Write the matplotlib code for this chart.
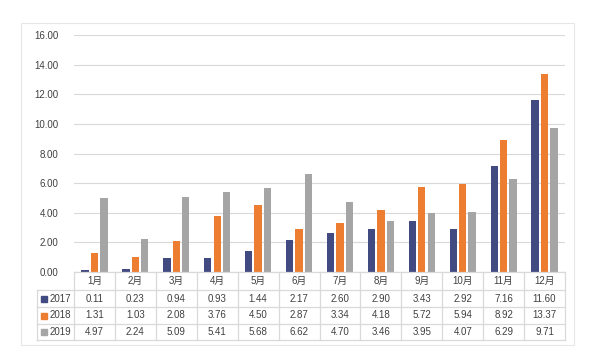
import numpy as np
import matplotlib.pyplot as plt
from matplotlib.patches import Rectangle
from matplotlib.lines import Line2D

plt.rcParams["font.family"] = ["Liberation Sans", "Noto Sans CJK SC", "DejaVu Sans"]

months = ["1月", "2月", "3月", "4月", "5月", "6月", "7月", "8月", "9月", "10月", "11月", "12月"]
years = ["2017", "2018", "2019"]
v2017 = [0.11, 0.23, 0.94, 0.93, 1.44, 2.17, 2.60, 2.90, 3.43, 2.92, 7.16, 11.60]
v2018 = [1.31, 1.03, 2.08, 3.76, 4.50, 2.87, 3.34, 4.18, 5.72, 5.94, 8.92, 13.37]
v2019 = [4.97, 2.24, 5.09, 5.41, 5.68, 6.62, 4.70, 3.46, 3.95, 4.07, 6.29, 9.71]
series = [v2017, v2018, v2019]
colors = ["#424A82", "#ED7D31", "#A5A5A5"]

W, H = 600, 356
fig = plt.figure(figsize=(6.0, 3.56), dpi=100)

def fx(px):
    return px / W

def fy(py):
    return 1 - py / H

# outer frame
fig.patches.append(Rectangle((fx(21), fy(345)), fx(574) - fx(21), fy(23) - fy(345),
                             transform=fig.transFigure, fill=False,
                             edgecolor="#E6E6E6", linewidth=0.8))

left, right, top, bottom = 74, 565, 35, 272
ax = fig.add_axes([fx(left), fy(bottom), fx(right) - fx(left), fy(top) - fy(bottom)])

x = np.arange(len(months))
bw, step = 0.18, 0.23
for i, (vals, c) in enumerate(zip(series, colors)):
    ax.bar(x + (i - 1) * step, vals, width=bw, color=c, zorder=3)

ax.set_xlim(-0.5, len(months) - 0.5)
ax.set_ylim(0, 16)
ax.set_yticks(np.arange(0, 17, 2))
ax.set_yticklabels([f"{t:.2f}" for t in np.arange(0, 17, 2)], fontsize=7, color="#404040")
ax.set_xticks([])
ax.tick_params(axis="y", length=0, pad=11)
ax.grid(axis="y", color="#D9D9D9", linewidth=0.8, zorder=0)
for s in ax.spines.values():
    s.set_visible(False)

# data table below the axes
line_c = "#D9D9D9"
colw = (right - left) / len(months)
rows_y = [272, 290, 307, 324, 340]
leg_left = 37

def hline(x0, x1, y):
    fig.add_artist(Line2D([fx(x0), fx(x1)], [fy(y), fy(y)], transform=fig.transFigure,
                          color=line_c, linewidth=0.9))

def vline(xp, y0, y1):
    fig.add_artist(Line2D([fx(xp), fx(xp)], [fy(y0), fy(y1)], transform=fig.transFigure,
                          color=line_c, linewidth=0.9))

hline(left, right, rows_y[0])
for yv in rows_y[1:]:
    hline(leg_left, right, yv)
for j in range(len(months) + 1):
    vline(left + j * colw, rows_y[0], rows_y[-1])
vline(leg_left, rows_y[1], rows_y[-1])

txt_c = "#404040"
for j, m in enumerate(months):
    cx = left + (j + 0.5) * colw
    fig.text(fx(cx), fy((rows_y[0] + rows_y[1]) / 2), m, ha="center", va="center",
             fontsize=7, color=txt_c)
for r, (yr, vals, c) in enumerate(zip(years, series, colors)):
    cy = (rows_y[r + 1] + rows_y[r + 2]) / 2
    fig.patches.append(Rectangle((fx(41), fy(cy + 3)), fx(6), 6 / H,
                                 transform=fig.transFigure, color=c))
    fig.text(fx(50), fy(cy), yr, ha="left", va="center", fontsize=7, color=txt_c)
    for j, v in enumerate(vals):
        cx = left + (j + 0.5) * colw
        fig.text(fx(cx), fy(cy), f"{v:.2f}", ha="center", va="center",
                 fontsize=7, color=txt_c)

fig.savefig("out.png", dpi=100)
